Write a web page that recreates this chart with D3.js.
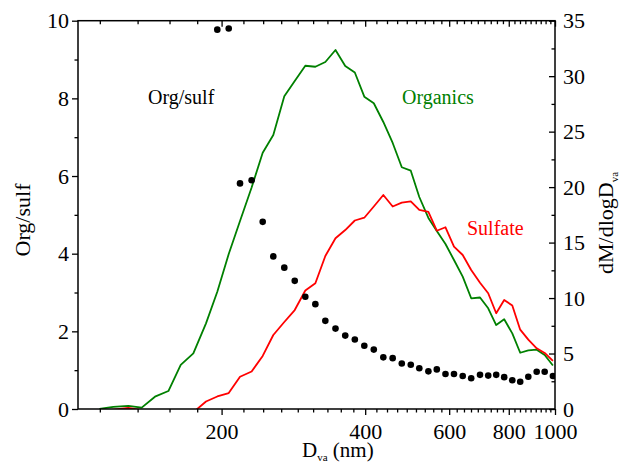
<!DOCTYPE html>
<html>
<head>
<meta charset="utf-8">
<script src="https://cdn.jsdelivr.net/npm/d3@7"></script>
<style>
    body { margin: 0; background: #fff; }
    svg text { font-family: "Liberation Serif", "Times New Roman", Times, "Noto Serif", "DejaVu Serif", FreeSerif, serif; }
</style>
</head>
<body>
<div id="chart"></div>
<script>
(function(){
    "use strict";

    // vacuum aerodynamic diameter of each size bin (nm)
    var diam = [110.9, 118.6, 127.5, 136.0, 145.0, 154.7, 164.2, 174.5, 185.5,
        195.9, 207.0, 218.6, 231.2, 243.9, 256.7, 270.7, 284.7, 299.6, 314.5,
        330.0, 346.6, 363.3, 380.5, 398.3, 417.0, 436.6, 456.8, 477.3, 498.5,
        519.4, 542.7, 565.2, 589.4, 614.1, 640.5, 667.3, 696.3, 724.4, 752.9,
        782.5, 813.7, 845.4, 879.1, 915.4, 951.4, 990.0];

    // dM/dlogDva
    var organics = [0, 0.20, 0.29, 0.12, 1.11, 1.62, 3.97, 5.02, 7.72,
        10.57, 13.97, 16.95, 19.97, 23.10, 24.70, 28.19, 29.57, 30.94, 30.85,
        31.28, 32.36, 30.92, 30.33, 28.15, 27.56, 25.87, 23.98, 21.79, 21.48,
        19.11, 17.22, 16.04, 14.87, 13.43, 11.93, 9.98, 10.05, 9.08, 7.57,
        8.09, 6.82, 5.07, 5.29, 5.35, 4.87, 3.92];

    var sulfate = [-0.2, -0.05, 0.10, -0.1, -0.3, -0.3, -0.3, -0.3, 0.68,
        1.13, 1.44, 2.91, 3.38, 4.78, 6.67, 7.84, 8.92, 10.68, 11.33,
        13.79, 15.39, 16.13, 16.99, 17.24, 18.25, 19.29, 18.25, 18.60, 18.72,
        17.94, 17.76, 16.07, 16.38, 14.63, 13.88, 12.53, 11.38, 10.43, 8.63,
        9.83, 9.33, 7.15, 6.25, 5.47, 5.05, 4.33];

    // organics / sulfate ratio (no value in the first bins)
    var orgSulf = [null, null, null, null, null, null, null, null, null,
        9.77, 9.80, 5.81, 5.89, 4.82, 3.93, 3.64, 3.30, 2.89, 2.70,
        2.27, 2.07, 1.89, 1.79, 1.63, 1.53, 1.33, 1.31, 1.17, 1.14,
        1.05, 0.97, 1.02, 0.90, 0.90, 0.85, 0.79, 0.88, 0.86, 0.88,
        0.82, 0.74, 0.70, 0.83, 0.96, 0.96, 0.85];

    // tick values
    var xMajor = [200, 400, 600, 800, 1000];
    var yLeftTicks = [0, 2, 4, 6, 8, 10];
    var yLeftMinor = [1, 3, 5, 7, 9];
    var yRightTicks = [0, 5, 10, 15, 20, 25, 30, 35];
    var yRightMinor = [2.5, 7.5, 12.5, 17.5, 22.5, 27.5, 32.5];

    // minor ticks: 8 per 200 nm interval
    var xMinor = [];
    for (var k = 5; k < 45; k++) {
        if (k % 9 != 0) xMinor.push(k * 200 / 9);
    }

    var serif = "'Liberation Serif', 'Times New Roman', Times, 'Noto Serif', 'DejaVu Serif', FreeSerif, serif";

    // set the dimensions and margins of the graph
    var margin = {top: 20.7, left: 78},
        width = 477,
        height = 388.3;

    var svg = d3.select("#chart").append("svg")
        .attr("width", 622)
        .attr("height", 462)
        .append("g")
        .attr("transform", "translate(" + margin.left + "," + margin.top + ")");

    // set the ranges
    var x = d3.scaleLog().domain([100, 1000]).range([0, width]);
    var yL = d3.scaleLinear().domain([0, 10]).range([height, 0]);
    var yR = d3.scaleLinear().domain([0, 35]).range([height, 0]);

    svg.append("clipPath").attr("id", "plotClip")
        .append("rect").attr("width", width).attr("height", height);

    var plot = svg.append("g").attr("clip-path", "url(#plotClip)");

    var idx = d3.range(diam.length);

    var massLine = function(vals) {
        return d3.line()
            .x(function(i) { return x(diam[i]); })
            .y(function(i) { return yR(vals[i]); })(idx);
    };

    plot.append("path")
        .attr("d", massLine(organics))
        .attr("fill", "none")
        .attr("stroke", "#008000")
        .attr("stroke-width", 1.8)
        .attr("stroke-linejoin", "round");

    plot.append("path")
        .attr("d", massLine(sulfate))
        .attr("fill", "none")
        .attr("stroke", "#ff0000")
        .attr("stroke-width", 1.8)
        .attr("stroke-linejoin", "round");

    plot.selectAll(".dot")
        .data(idx.filter(function(i) { return orgSulf[i] != null; }))
        .enter().append("circle")
        .attr("class", "dot")
        .attr("cx", function(i) { return x(diam[i]); })
        .attr("cy", function(i) { return yL(orgSulf[i]); })
        .attr("r", 3.3)
        .attr("fill", "#000");

    // axes
    var styleAxis = function(g) {
        g.attr("font-family", serif);
        g.select(".domain").remove();
        g.selectAll("line").attr("stroke", "#000").attr("stroke-width", 1.3);
        g.selectAll("text").attr("font-size", 22).attr("fill", "#000");
    };

    svg.append("g")
        .attr("transform", "translate(0," + height + ")")
        .call(d3.axisBottom(x).tickValues(xMajor).tickFormat(d3.format("d")).tickSize(6).tickPadding(8))
        .call(styleAxis);
    svg.append("g")
        .attr("transform", "translate(0," + height + ")")
        .call(d3.axisBottom(x).tickValues(xMinor).tickFormat("").tickSize(3.5))
        .call(styleAxis);

    svg.append("g")
        .call(d3.axisTop(x).tickValues(xMajor).tickFormat("").tickSize(-6))
        .call(styleAxis);
    svg.append("g")
        .call(d3.axisTop(x).tickValues(xMinor).tickFormat("").tickSize(-3.5))
        .call(styleAxis);

    svg.append("g")
        .call(d3.axisLeft(yL).tickValues(yLeftTicks).tickSize(6).tickPadding(3))
        .call(styleAxis);
    svg.append("g")
        .call(d3.axisLeft(yL).tickValues(yLeftMinor).tickFormat("").tickSize(3.5))
        .call(styleAxis);

    svg.append("g")
        .attr("transform", "translate(" + width + ",0)")
        .call(d3.axisRight(yR).tickValues(yRightTicks).tickSize(-6).tickPadding(8))
        .call(styleAxis);
    svg.append("g")
        .attr("transform", "translate(" + width + ",0)")
        .call(d3.axisRight(yR).tickValues(yRightMinor).tickFormat("").tickSize(-3.5))
        .call(styleAxis);

    // frame
    svg.append("rect")
        .attr("width", width)
        .attr("height", height)
        .attr("fill", "none")
        .attr("stroke", "#000")
        .attr("stroke-width", 1.5);

    // axis titles (page coordinates)
    var root = d3.select("#chart svg").attr("font-family", serif);

    var xt = root.append("text")
        .attr("x", 302).attr("y", 457)
        .attr("font-size", 21);
    xt.append("tspan").text("D");
    xt.append("tspan").attr("font-size", 11).attr("dy", 4).text("va");
    xt.append("tspan").attr("dy", -4).text(" (nm)");

    root.append("text")
        .attr("transform", "translate(30,220) rotate(-90)")
        .attr("text-anchor", "middle")
        .attr("font-size", 22)
        .text("Org/sulf");

    var yt = root.append("text")
        .attr("transform", "translate(613,223) rotate(-90)")
        .attr("text-anchor", "middle")
        .attr("font-size", 22);
    yt.append("tspan").text("dM/dlogD");
    yt.append("tspan").attr("font-size", 11).attr("dy", 5).text("va");

    // series labels
    root.append("text").attr("x", 148).attr("y", 104)
        .attr("font-size", 20).attr("fill", "#000").text("Org/sulf");
    root.append("text").attr("x", 402).attr("y", 104)
        .attr("font-size", 20).attr("fill", "#008000").text("Organics");
    root.append("text").attr("x", 467).attr("y", 235)
        .attr("font-size", 20).attr("fill", "#ff0000").text("Sulfate");
})();
</script>
</body>
</html>
